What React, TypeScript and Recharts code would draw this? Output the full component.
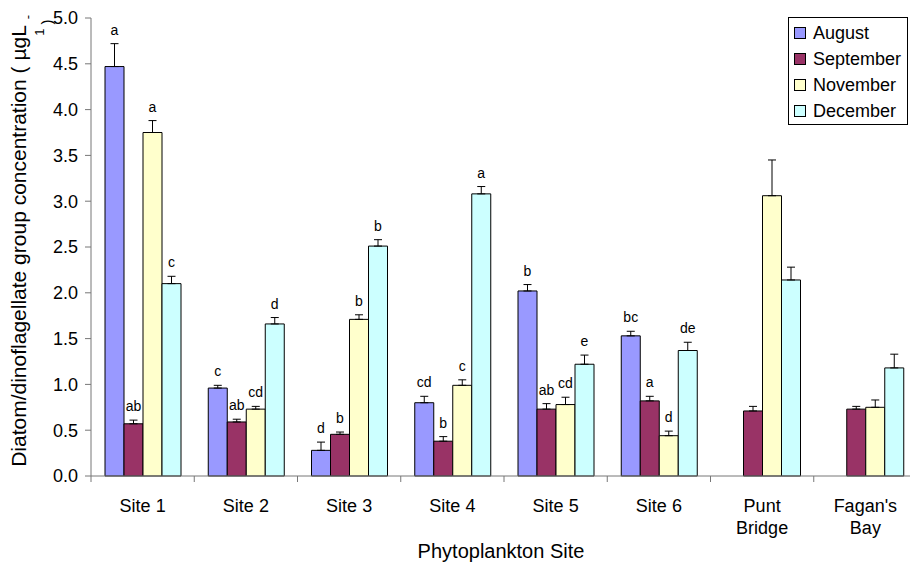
import React from 'react';
import { BarChart, Bar, XAxis, YAxis, ErrorBar, LabelList, Legend } from 'recharts';

const categories = ['Site 1', 'Site 2', 'Site 3', 'Site 4', 'Site 5', 'Site 6', 'Punt\nBridge', "Fagan's\nBay"];
const august = [4.47, 0.96, 0.28, 0.8, 2.02, 1.53, null, null];
const augustErr = [0.25, 0.03, 0.09, 0.07, 0.07, 0.05, null, null];
const augustLetters = ['a', 'c', 'd', 'cd', 'b', 'bc', '', ''];
const september = [0.57, 0.59, 0.455, 0.38, 0.73, 0.82, 0.71, 0.73];
const septemberErr = [0.04, 0.03, 0.025, 0.05, 0.06, 0.05, 0.05, 0.03];
const septemberLetters = ['ab', 'ab', 'b', 'b', 'ab', 'a', '', ''];
const november = [3.75, 0.73, 1.71, 0.99, 0.78, 0.44, 3.06, 0.75];
const novemberErr = [0.13, 0.03, 0.05, 0.06, 0.08, 0.05, 0.39, 0.08];
const novemberLetters = ['a', 'cd', 'b', 'c', 'cd', 'd', '', ''];
const december = [2.1, 1.66, 2.51, 3.08, 1.22, 1.37, 2.14, 1.18];
const decemberErr = [0.08, 0.07, 0.07, 0.08, 0.1, 0.09, 0.14, 0.15];
const decemberLetters = ['c', 'd', 'b', 'a', 'e', 'de', '', ''];
const yTicks = [0, 0.5, 1, 1.5, 2, 2.5, 3, 3.5, 4, 4.5, 5];

const series = [
  { key: 'aug', name: 'August', color: '#9999FF', values: august, errs: augustErr, letters: augustLetters },
  { key: 'sep', name: 'September', color: '#993366', values: september, errs: septemberErr, letters: septemberLetters },
  { key: 'nov', name: 'November', color: '#FFFFCC', values: november, errs: novemberErr, letters: novemberLetters },
  { key: 'dec', name: 'December', color: '#CCFFFF', values: december, errs: decemberErr, letters: decemberLetters },
];

const data = categories.map((c, i) => {
  const row: any = { name: c };
  series.forEach((s) => {
    row[s.key] = s.values[i];
    row[s.key + 'Err'] = s.errs[i] == null ? null : [0, s.errs[i]];
    row[s.key + 'Letter'] = s.letters[i];
    row[s.key + 'E'] = s.errs[i];
  });
  return row;
});

const FONT = 'Liberation Sans, Arial, sans-serif';
const AXIS = '#777';

const XTick = (props: any) => {
  const { x, y, payload, width } = props;
  const half = payload && payload.offset ? payload.offset : width / categories.length / 2;
  const lines = String(payload.value).split('\n');
  return (
    <g>
      <line x1={x - half} y1={y} x2={x - half} y2={y + 6} stroke={AXIS} strokeWidth={1} />
      {lines.map((l, i) => (
        <text key={i} x={x} y={y + 36 + i * 22} textAnchor="middle" fontSize={18} fontFamily={FONT} fill="#000">
          {l}
        </text>
      ))}
    </g>
  );
};

const makeLetterLabel = (sKey: string) => (props: any) => {
  const { x, y, width, height, value, index } = props;
  if (!value) return null;
  const row = data[index];
  const v = row[sKey];
  const e = row[sKey + 'E'] || 0;
  const ppu = v ? Math.abs(height) / v : 0;
  const top = y - e * ppu;
  return (
    <text x={x + width / 2} y={top - 9} textAnchor="middle" fontSize={14} fontFamily={FONT} fill="#000">
      {value}
    </text>
  );
};

const LegendBox = () => (
  <div
    style={{
      border: '1px solid #000',
      background: '#fff',
      width: 118,
      height: 104,
      boxSizing: 'content-box',
      fontFamily: FONT,
      fontSize: 18,
      paddingTop: 2,
    }}
  >
    {series.map((s) => (
      <div key={s.key} style={{ height: 26, display: 'flex', alignItems: 'center', lineHeight: '26px' }}>
        <span
          style={{
            display: 'inline-block',
            width: 10,
            height: 10,
            marginLeft: 5,
            marginRight: 7,
            background: s.color,
            border: '1px solid #000',
          }}
        />
        <span style={{ color: '#000' }}>{s.name}</span>
      </div>
    ))}
  </div>
);

const YLabel = () => (
  <g fontFamily={FONT} fill="#000">
    <text x={26} y={246} transform="rotate(-90, 26, 246)" textAnchor="middle" fontSize={21}>
      Diatom/dinoflagellate group concentration ( µgL
    </text>
    <text x={32} y={17} transform="rotate(-90, 32, 17)" textAnchor="middle" fontSize={13}>
      -
    </text>
    <text x={44} y={32} transform="rotate(-90, 44, 32)" textAnchor="middle" fontSize={13}>
      1
    </text>
    <text x={52} y={22} transform="rotate(-90, 52, 22)" textAnchor="middle" fontSize={15}>
      )
    </text>
  </g>
);

const XLabel = (props: any) => {
  const vb = props.viewBox || {};
  return (
    <text x={vb.x + vb.width / 2 - 3} y={vb.y + 82} textAnchor="middle" fontSize={20} fontFamily={FONT} fill="#000">
      Phytoplankton Site
    </text>
  );
};

export default function App() {
  return (
    <div style={{ position: 'fixed', left: 0, top: 0, width: 910, height: 566, overflow: 'hidden', background: '#fff' }}>
      <BarChart
        width={930}
        height={566}
        data={data}
        margin={{ top: 18, right: 13, bottom: 0, left: 0 }}
        barCategoryGap={14}
        barGap={0}
      >
        <XAxis
          dataKey="name"
          height={90}
          tickLine={false}
          tickSize={0}
          tickMargin={0}
          axisLine={{ stroke: AXIS }}
          tick={<XTick />}
          interval={0}
          label={<XLabel />}
        />
        <YAxis
          width={91}
          domain={[0, 5]}
          ticks={yTicks}
          tickFormatter={(v: number) => v.toFixed(1)}
          tickSize={6}
          tickMargin={7}
          axisLine={{ stroke: AXIS }}
          tickLine={{ stroke: AXIS }}
          tick={{ fontSize: 18, fontFamily: FONT, fill: '#000' }}
          interval={0}
          label={<YLabel />}
        />
        <Legend
          layout="vertical"
          verticalAlign="middle"
          align="center"
          content={<LegendBox />}
          wrapperStyle={{ position: 'absolute', left: 788, top: 17, width: 120, right: 'auto', bottom: 'auto' }}
        />
        {series.map((s) => (
          <Bar
            key={s.key}
            dataKey={s.key}
            name={s.name}
            fill={s.color}
            stroke="#000"
            strokeWidth={1}
            isAnimationActive={false}
          >
            <ErrorBar dataKey={s.key + 'Err'} width={4} stroke="#000" strokeWidth={1} direction="y" />
            <LabelList dataKey={s.key + 'Letter'} content={makeLetterLabel(s.key)} />
          </Bar>
        ))}
      </BarChart>
    </div>
  );
}
